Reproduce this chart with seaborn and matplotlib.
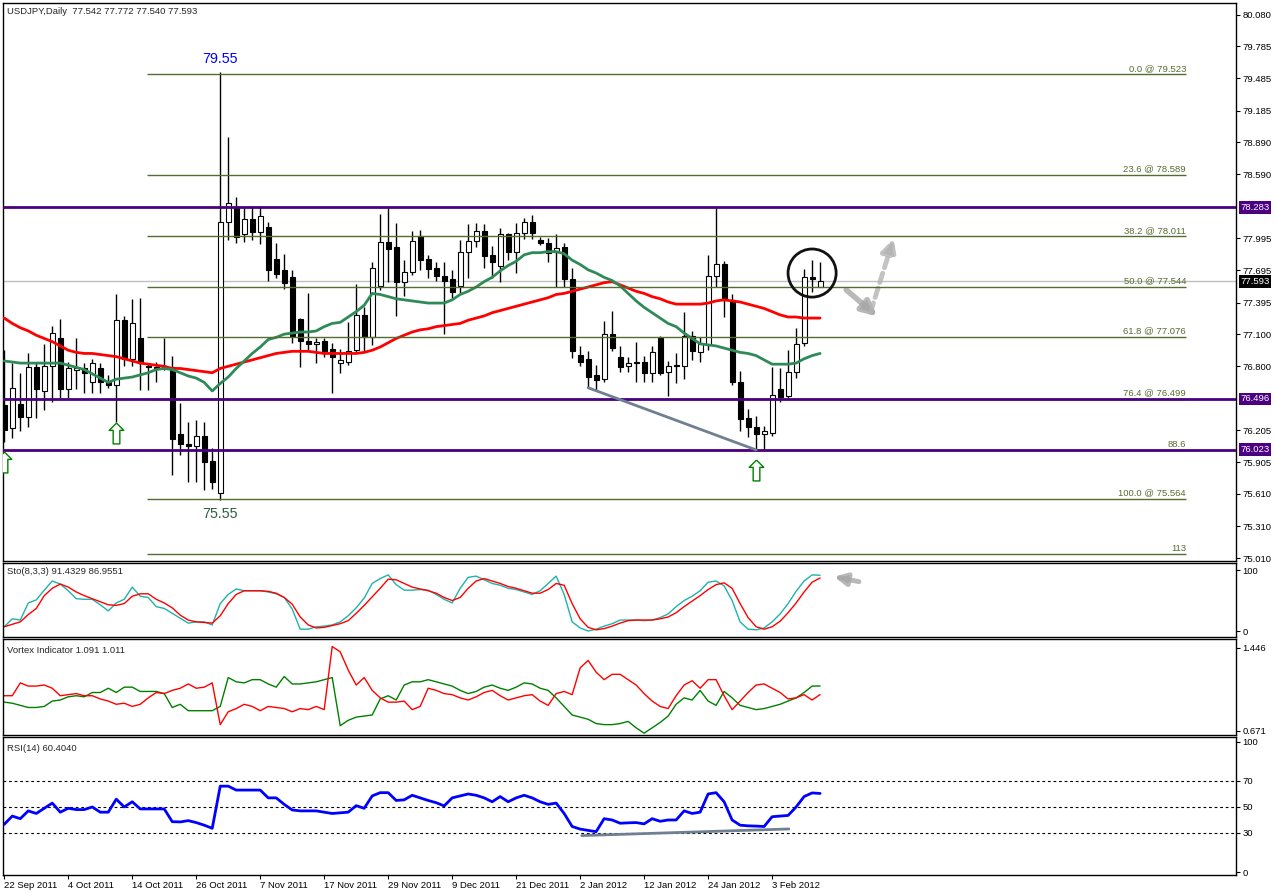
import numpy as np
import seaborn as sns
import matplotlib.pyplot as plt
from matplotlib.path import Path
from matplotlib.transforms import blended_transform_factory

# ---------------- data ----------------
opens = [76.44, 76.22, 76.45, 76.33, 76.79, 76.57, 76.80, 77.06, 76.59, 76.77,
         76.78, 76.65, 76.78, 76.65, 76.63, 77.23, 76.87, 77.06, 76.80, 76.79,
         76.79, 76.79, 76.17, 76.07, 76.06, 76.15, 75.92, 75.62, 78.15, 78.28,
         78.03, 78.17, 78.05, 78.10, 77.80, 77.70, 77.63, 77.24, 77.04, 77.01,
         77.04, 76.96, 76.83, 76.84, 76.95, 77.28, 77.07, 77.55, 77.96, 77.91,
         77.59, 77.68, 78.02, 77.80, 77.72, 77.64, 77.61, 77.55, 77.87, 77.97,
         78.06, 77.84, 77.74, 78.03, 77.87, 78.04, 78.15, 77.98, 77.95, 77.87,
         77.91, 77.61, 76.91, 76.87, 76.72, 76.68, 77.10, 76.89, 76.80, 76.84,
         76.84, 76.74, 77.06, 76.75, 76.81, 76.80, 77.08, 76.93, 77.00, 77.64,
         77.75, 77.42, 76.65, 76.32, 76.23, 76.17, 76.18, 76.59, 76.52, 76.75,
         77.02, 77.63, 77.542]
highs = [76.95, 76.83, 76.74, 76.92, 76.83, 77.01, 77.18, 77.24, 76.84, 77.06,
         76.83, 76.87, 76.83, 76.72, 77.47, 77.27, 77.43, 77.44, 76.83, 76.84,
         77.06, 76.90, 76.46, 76.28, 76.30, 76.28, 76.04, 79.55, 78.94, 78.38,
         78.28, 78.30, 78.30, 78.15, 77.95, 77.85, 77.70, 77.25, 77.48, 77.06,
         77.06, 77.02, 76.96, 77.21, 77.57, 77.35, 77.77, 78.22, 78.28, 78.14,
         77.79, 78.06, 78.07, 77.84, 77.77, 77.77, 77.70, 77.98, 78.13, 78.14,
         78.13, 77.92, 78.09, 78.04, 78.14, 78.18, 78.21, 78.01, 78.00, 78.03,
         77.95, 77.72, 76.99, 76.94, 76.81, 77.22, 77.32, 76.99, 76.89, 77.03,
         76.90, 76.99, 77.08, 76.85, 76.92, 77.31, 77.13, 77.07, 77.84, 78.28,
         77.78, 77.47, 76.76, 76.40, 76.34, 76.24, 76.79, 76.78, 76.95, 77.16,
         77.71, 77.79, 77.772]
lows = [76.09, 76.13, 76.20, 76.23, 76.32, 76.39, 76.47, 76.50, 76.50, 76.59,
        76.55, 76.55, 76.55, 76.60, 76.28, 76.80, 76.80, 76.58, 76.58, 76.65,
        76.77, 75.79, 75.97, 75.72, 75.72, 75.65, 75.66, 75.55, 77.98, 77.95,
        77.96, 77.98, 77.94, 77.60, 77.62, 77.52, 77.02, 76.79, 76.95, 76.83,
        76.89, 76.55, 76.74, 76.81, 76.92, 76.94, 77.00, 77.51, 77.59, 77.27,
        77.46, 77.65, 77.70, 77.62, 77.60, 77.10, 77.44, 77.47, 77.62, 77.91,
        77.72, 77.62, 77.59, 77.79, 77.67, 77.99, 77.99, 77.93, 77.77, 77.54,
        77.54, 76.88, 76.80, 76.60, 76.58, 76.65, 76.94, 76.75, 76.75, 76.65,
        76.65, 76.65, 76.72, 76.52, 76.64, 76.68, 76.86, 76.84, 76.95, 77.54,
        77.26, 76.63, 76.20, 76.14, 76.02, 76.02, 76.15, 76.47, 76.50, 76.69,
        76.99, 77.49, 77.540]
closes = [76.21, 76.60, 76.33, 76.79, 76.59, 76.80, 77.11, 76.59, 76.78, 76.78,
          76.74, 76.83, 76.65, 76.63, 77.23, 76.87, 77.20, 76.83, 76.79, 76.78,
          76.78, 76.12, 76.08, 76.06, 76.15, 75.91, 75.72, 78.15, 78.32, 78.01,
          78.17, 78.05, 78.20, 77.70, 77.66, 77.58, 77.08, 77.04, 77.01, 77.03,
          76.94, 76.89, 76.86, 76.94, 77.28, 77.07, 77.72, 77.96, 77.89, 77.59,
          77.68, 77.97, 77.79, 77.71, 77.64, 77.60, 77.49, 77.87, 77.97, 78.06,
          77.83, 77.77, 78.03, 77.87, 78.04, 78.15, 78.04, 77.95, 77.86, 77.90,
          77.61, 76.94, 76.84, 76.70, 76.67, 77.10, 76.97, 76.79, 76.83, 76.83,
          76.74, 76.93, 76.74, 76.80, 76.80, 77.08, 76.94, 77.01, 77.64, 77.75,
          77.42, 76.65, 76.31, 76.23, 76.17, 76.20, 76.53, 76.51, 76.75, 77.01,
          77.63, 77.61, 77.593]

ma_slow = [77.25, 77.20, 77.16, 77.13, 77.09, 77.06, 77.03, 76.99, 76.95, 76.93,
           76.92, 76.92, 76.91, 76.90, 76.89, 76.87, 76.85, 76.83, 76.82, 76.81,
           76.80, 76.78, 76.78, 76.77, 76.76, 76.75, 76.74, 76.78, 76.80, 76.82,
           76.84, 76.86, 76.88, 76.90, 76.92, 76.93, 76.94, 76.94, 76.94, 76.93,
           76.92, 76.92, 76.92, 76.92, 76.92, 76.93, 76.95, 76.98, 77.02, 77.06,
           77.09, 77.12, 77.14, 77.15, 77.17, 77.18, 77.19, 77.20, 77.23, 77.25,
           77.27, 77.30, 77.32, 77.34, 77.36, 77.38, 77.40, 77.42, 77.44, 77.47,
           77.48, 77.50, 77.52, 77.54, 77.56, 77.58, 77.59, 77.56, 77.53, 77.50,
           77.48, 77.45, 77.43, 77.40, 77.38, 77.38, 77.38, 77.38, 77.39, 77.41,
           77.42, 77.41, 77.40, 77.38, 77.36, 77.34, 77.31, 77.28, 77.26, 77.26,
           77.25, 77.25, 77.25]
ma_fast = [76.85, 76.84, 76.83, 76.83, 76.83, 76.83, 76.83, 76.83, 76.81, 76.79,
           76.77, 76.73, 76.69, 76.65, 76.68, 76.69, 76.70, 76.72, 76.74, 76.77,
           76.78, 76.77, 76.74, 76.71, 76.69, 76.65, 76.57, 76.64, 76.70, 76.78,
           76.85, 76.92, 76.98, 77.05, 77.07, 77.10, 77.11, 77.12, 77.12, 77.13,
           77.17, 77.20, 77.21, 77.26, 77.31, 77.37, 77.48, 77.47, 77.45, 77.43,
           77.42, 77.41, 77.40, 77.39, 77.39, 77.39, 77.42, 77.47, 77.50, 77.54,
           77.59, 77.63, 77.69, 77.74, 77.78, 77.84, 77.86, 77.86, 77.87, 77.87,
           77.85, 77.79, 77.75, 77.70, 77.67, 77.63, 77.60, 77.55, 77.48, 77.41,
           77.35, 77.30, 77.25, 77.20, 77.17, 77.11, 77.06, 77.01, 77.00, 76.99,
           76.97, 76.95, 76.93, 76.92, 76.90, 76.86, 76.82, 76.82, 76.82, 76.83,
           76.87, 76.90, 76.92]

sto_k = [7, 20, 18, 46, 51, 67, 82, 77, 66, 53,
         52, 52, 43, 33, 46, 52, 72, 57, 55, 40,
         37, 29, 21, 13, 15, 15, 10, 45, 60, 69,
         66, 66, 66, 64, 61, 55, 36, 3, 3, 7,
         8, 10, 15, 25, 38, 54, 78, 86, 92, 76,
         67, 67, 68, 67, 60, 52, 46, 70, 88, 90,
         84, 78, 75, 70, 68, 64, 60, 66, 78, 90,
         60, 15, 5, 0, 3, 8, 12, 18, 18, 18,
         17, 18, 22, 28, 40, 50, 57, 66, 80, 82,
         74, 50, 15, 3, 2, 5, 15, 28, 45, 65,
         82, 92, 91.43]
sto_d = [7, 11, 15, 27, 37, 58, 70, 77, 72, 64,
         58, 53, 48, 43, 42, 45, 57, 61, 61, 52,
         46, 38, 26, 18, 15, 14, 13, 25, 45, 60,
         66, 66, 66, 65, 62, 55, 44, 23, 10, 5,
         6, 9, 12, 17, 29, 42, 56, 70, 85, 84,
         78, 72, 69, 66, 62, 55, 50, 55, 70, 82,
         86, 82, 78, 73, 70, 66, 62, 62, 68, 78,
         75, 45, 20, 6, 2, 4, 8, 13, 17, 18,
         18, 18, 20, 23, 30, 40, 49, 58, 68, 76,
         79, 70, 45, 22, 7, 3, 7, 16, 30, 46,
         64, 80, 86.96]

vi_plus = [0.94, 0.93, 0.91, 0.89, 0.89, 0.90, 0.95, 0.96, 0.99, 1.00,
           0.99, 1.03, 1.03, 1.07, 1.03, 1.08, 1.08, 1.04, 1.04, 1.04,
           1.02, 0.89, 0.92, 0.86, 0.86, 0.86, 0.86, 0.90, 1.17, 1.13,
           1.12, 1.15, 1.15, 1.11, 1.08, 1.18, 1.11, 1.11, 1.12, 1.13,
           1.15, 1.17, 0.72, 0.77, 0.80, 0.81, 0.82, 0.97, 1.00, 0.96,
           1.10, 1.13, 1.13, 1.15, 1.13, 1.11, 1.09, 1.05, 1.02, 1.04,
           1.08, 1.10, 1.07, 1.05, 1.08, 1.12, 1.11, 1.07, 1.05, 0.98,
           0.90, 0.82, 0.80, 0.78, 0.74, 0.73, 0.73, 0.74, 0.76, 0.70,
           0.65, 0.70, 0.75, 0.81, 0.92, 0.98, 0.96, 1.05, 0.95, 0.91,
           1.04, 0.98, 0.91, 0.89, 0.87, 0.88, 0.90, 0.92, 0.95, 0.98,
           1.03, 1.09, 1.091]
vi_minus = [1.00, 1.00, 1.12, 1.09, 1.09, 1.10, 1.07, 1.00, 1.01, 1.02,
            1.00, 1.00, 0.97, 0.95, 0.92, 0.93, 0.90, 0.92, 0.98, 1.03,
            1.02, 1.05, 1.07, 1.11, 1.07, 1.08, 1.12, 0.73, 0.85, 0.88,
            0.92, 0.90, 0.86, 0.90, 0.89, 0.88, 0.85, 0.88, 0.87, 0.90,
            0.87, 1.46, 1.41, 1.24, 1.10, 1.17, 1.05, 0.98, 0.94, 0.94,
            0.95, 0.87, 0.90, 1.07, 1.05, 1.02, 1.01, 0.98, 0.96, 0.99,
            1.03, 1.05, 1.00, 0.96, 0.98, 1.00, 1.01, 0.95, 0.91, 1.02,
            1.04, 1.01, 1.26, 1.33, 1.22, 1.15, 1.20, 1.20, 1.15, 1.10,
            1.02, 0.95, 0.90, 0.88, 1.00, 1.10, 1.14, 1.07, 1.15, 1.15,
            1.00, 0.87, 0.95, 1.03, 1.10, 1.11, 1.07, 1.03, 0.97, 0.98,
            1.01, 0.96, 1.011]

rsi = [36.7, 43, 41, 47, 45, 49, 53, 46, 49, 48,
       48, 50, 46, 46, 56, 50, 54, 48.5, 48.5, 48.5,
       48.5, 38.7, 38.5, 39.5, 38, 36, 33.6, 66, 66, 63,
       63, 63, 63, 57, 57, 52, 47.7, 47, 47, 47,
       46, 45, 45.5, 46, 51, 49, 58.5, 61, 61, 55,
       55.5, 59, 57, 55, 53.3, 50.8, 57, 58.5, 60, 59,
       57, 54, 58, 54, 57, 59, 57, 54, 52, 53,
       45, 35, 33, 32, 31, 41, 40, 37.5, 37.8, 38,
       37, 41, 39, 40, 40, 47, 45, 46, 60, 61,
       54, 40, 36, 35.5, 35.3, 35, 42.5, 43, 43.5, 50,
       58, 60.8, 60.4]

date_labels = ["22 Sep 2011", "4 Oct 2011", "14 Oct 2011", "26 Oct 2011",
               "7 Nov 2011", "17 Nov 2011", "29 Nov 2011", "9 Dec 2011",
               "21 Dec 2011", "2 Jan 2012", "12 Jan 2012", "24 Jan 2012",
               "3 Feb 2012"]
price_ticks = [80.080, 79.785, 79.485, 79.185, 78.890, 78.590, 77.995, 77.695,
               77.395, 77.100, 76.800, 76.205, 75.905, 75.610, 75.310, 75.010]
sr_levels = [78.283, 76.496, 76.023]
fib_levels = [79.523, 78.589, 78.011, 77.544, 77.076, 76.499, 76.015, 75.564, 75.049]
fib_labels = ["0.0 @ 79.523", "23.6 @ 78.589", "38.2 @ 78.011", "50.0 @ 77.544",
              "61.8 @ 77.076", "76.4 @ 76.499", "88.6", "100.0 @ 75.564", "113"]
last_price = 77.593
up_arrow_bars = [0, 14, 94]
up_arrow_prices = [75.91, 76.18, 75.83]
rsi_trend_x = [72.2, 98.1]
rsi_trend_y = [28.0, 33.1]

# ---------------- figure ----------------
sns.set_theme(style="white")
plt.rcParams['font.family'] = ['Liberation Sans', 'DejaVu Sans']
FS = 6.8

W, H = 1276, 893
fig = plt.figure(figsize=(W / 100, H / 100), dpi=100)
fig.patch.set_facecolor('white')


def rect(top, bottom):
    return [3 / W, 1 - bottom / H, (1236 - 3) / W, (bottom - top) / H]


ax = fig.add_axes(rect(3, 561))
ax_sto = fig.add_axes(rect(563, 637))
ax_vi = fig.add_axes(rect(639, 735))
ax_rsi = fig.add_axes(rect(737, 875))

XLIM = (-0.16, 154)


def setup(a, ylim, ticks, fmt):
    a.set_xlim(*XLIM)
    a.set_ylim(*ylim)
    a.set_facecolor('white')
    for s in a.spines.values():
        s.set_color('black')
        s.set_linewidth(1)
    a.yaxis.tick_right()
    a.set_yticks(ticks)
    a.set_yticklabels([fmt.format(t) for t in ticks])
    a.tick_params(axis='y', right=True, left=False, direction='out', length=3,
                  width=0.8, pad=1.5, labelsize=FS, colors='black')
    a.tick_params(axis='x', bottom=False, labelbottom=False)
    a.set_xlabel('')
    a.set_ylabel('')
    a.grid(False)


x = np.arange(len(opens))
o = np.array(opens)
c = np.array(closes)

# ---- main price panel ----
setup(ax, (74.984, 80.189), price_ticks, "{:.3f}")
ax.axhline(last_price, color='#C0C0C0', lw=1, zorder=1)
ax.vlines(x, lows, highs, color='black', lw=1, zorder=2)
body_bottom = np.minimum(o, c)
body_height = np.maximum(np.abs(c - o), 0.012)
body_colors = ['white' if cc >= oo else 'black' for oo, cc in zip(o, c)]
ax.bar(x, body_height, bottom=body_bottom, width=0.62, color=body_colors,
       edgecolor='black', linewidth=0.8, zorder=3)

sns.lineplot(x=x, y=ma_slow, ax=ax, color='#FF0000', lw=2, zorder=4)
sns.lineplot(x=x, y=ma_fast, ax=ax, color='#2E8B57', lw=2, zorder=4)

fib_start, fib_end = 17.9, 147.75
ax.hlines(fib_levels, fib_start, fib_end, color='#556B2F', lw=1, zorder=5)
for lvl, lab in zip(fib_levels, fib_labels):
    ax.annotate(lab, xy=(fib_end, lvl), xytext=(0, 1), textcoords='offset points',
                ha='right', va='bottom', fontsize=FS, color='#556B2F')
for lvl in sr_levels:
    ax.axhline(lvl, color='#4B0082', lw=2, zorder=6)

# trend line joining two lows
ax.plot([73, 94], [lows[73], lows[94]], color='#708090', lw=2, zorder=6)

ax.annotate(f"{highs[27]:.2f}", xy=(27, highs[27]), xytext=(0, 4), textcoords='offset points',
            ha='center', va='bottom', fontsize=10.3, color='#0000FF')
ax.annotate(f"{lows[27]:.2f}", xy=(27, lows[27]), xytext=(0, -5), textcoords='offset points',
            ha='center', va='top', fontsize=10.3, color='#2F5F3F')

arrow_marker = Path([(0, 1), (-0.7, 0.3), (-0.32, 0.3), (-0.32, -1),
                     (0.32, -1), (0.32, 0.3), (0.7, 0.3), (0, 1)])
ax.plot(up_arrow_bars, up_arrow_prices, ls='none', marker=arrow_marker, markersize=15,
        markerfacecolor='white', markeredgecolor='#008000', markeredgewidth=1, zorder=7)

ax.scatter([101], [77.67], s=1200, facecolors='none', edgecolors='#111111',
           linewidths=2, zorder=7)
ax.annotate('', xy=(109.4, 77.25), xytext=(105.0, 77.53),
            arrowprops=dict(arrowstyle='-|>', color='#A8A8A8', lw=4, mutation_scale=22, alpha=0.8))
ax.annotate('', xy=(111.3, 78.02), xytext=(108.2, 77.28),
            arrowprops=dict(arrowstyle='-|>', color='#B4B4B4', lw=3.5, ls=(0, (2, 1.2)),
                            mutation_scale=22, alpha=0.8))

ax.annotate("USDJPY,Daily  77.542 77.772 77.540 77.593", xy=(0, 1), xycoords='axes fraction',
            xytext=(3, -3), textcoords='offset points', ha='left', va='top', fontsize=FS)


def price_box(a, level, text, fc):
    tr = blended_transform_factory(a.transAxes, a.transData)
    a.annotate(text, xy=(1, level), xycoords=tr, xytext=(3.2, 0), textcoords='offset points',
               ha='left', va='center', fontsize=FS, color='white', annotation_clip=False,
               bbox=dict(boxstyle='square,pad=0.18', fc=fc, ec='none'))


for lvl in sr_levels:
    price_box(ax, lvl, f"{lvl:.3f}", '#4B0082')
price_box(ax, last_price, f"{last_price:.3f}", 'black')

# ---- stochastic ----
setup(ax_sto, (-9.8, 111.5), [100, 0], "{:d}")
sns.lineplot(x=x, y=sto_k, ax=ax_sto, color='#20B2AA', lw=1)
sns.lineplot(x=x, y=sto_d, ax=ax_sto, color='#FF0000', lw=1)
ax_sto.annotate('', xy=(103.4, 90), xytext=(107.2, 80),
                arrowprops=dict(arrowstyle='-|>', color='#A8A8A8', lw=3.5, mutation_scale=18, alpha=0.8))
ax_sto.annotate("Sto(8,3,3) 91.4329 86.9551", xy=(0, 1), xycoords='axes fraction',
                xytext=(3, -3), textcoords='offset points', ha='left', va='top', fontsize=FS)

# ---- vortex ----
setup(ax_vi, (0.633, 1.530), [1.446, 0.671], "{:.3f}")
sns.lineplot(x=x, y=vi_plus, ax=ax_vi, color='#008000', lw=1)
sns.lineplot(x=x, y=vi_minus, ax=ax_vi, color='#FF0000', lw=1)
ax_vi.annotate("Vortex Indicator 1.091 1.011", xy=(0, 1), xycoords='axes fraction',
               xytext=(3, -5), textcoords='offset points', ha='left', va='top', fontsize=FS)

# ---- RSI ----
setup(ax_rsi, (-2.3, 103.8), [100, 70, 50, 30, 0], "{:d}")
for lvl in [70, 50, 30]:
    ax_rsi.axhline(lvl, color='black', lw=0.8, ls=(0, (2.5, 2.5)))
sns.lineplot(x=x, y=rsi, ax=ax_rsi, color='#0000FF', lw=2)
ax_rsi.plot(rsi_trend_x, rsi_trend_y, color='#708090', lw=2)
ax_rsi.annotate("RSI(14) 60.4040", xy=(0, 1), xycoords='axes fraction',
                xytext=(3, -5), textcoords='offset points', ha='left', va='top', fontsize=FS)
ax_rsi.set_xticks(np.arange(0, len(x), 8))
ax_rsi.set_xticklabels(date_labels, ha='left')
ax_rsi.tick_params(axis='x', bottom=True, labelbottom=True, direction='out', length=3,
                   width=0.8, pad=1.5, labelsize=FS, colors='black')

fig.savefig('out.png', dpi=100, facecolor='white')
